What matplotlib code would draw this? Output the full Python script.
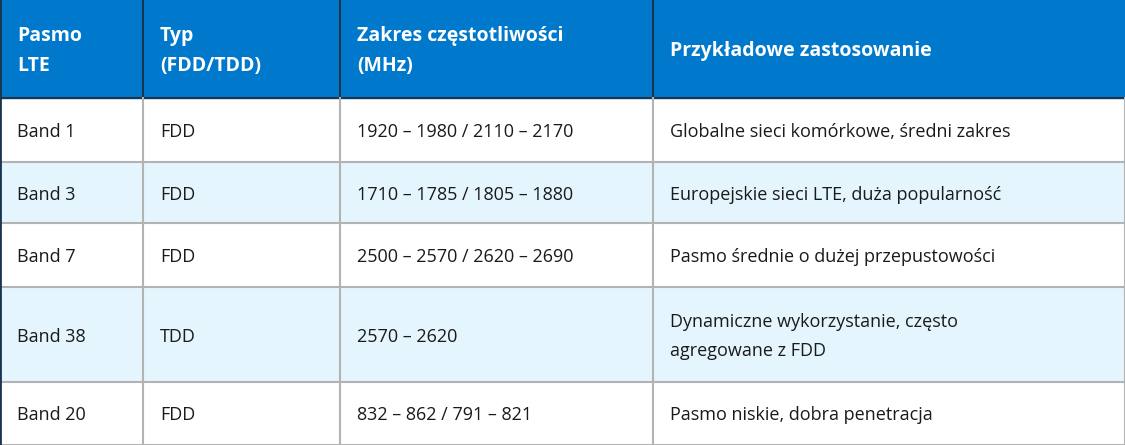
import matplotlib
matplotlib.use('Agg')
import matplotlib.pyplot as plt
import matplotlib.patches as mpatches

# table content
headers = ['Pasmo\nLTE', 'Typ\n(FDD/TDD)', 'Zakres częstotliwości\n(MHz)', 'Przykładowe zastosowanie']
bands = ['Band 1', 'Band 3', 'Band 7', 'Band 38', 'Band 20']
types = ['FDD', 'FDD', 'FDD', 'TDD', 'FDD']
ranges = ['1920 – 1980 / 2110 – 2170', '1710 – 1785 / 1805 – 1880',
          '2500 – 2570 / 2620 – 2690', '2570 – 2620', '832 – 862 / 791 – 821']
uses = ['Globalne sieci komórkowe, średni zakres', 'Europejskie sieci LTE, duża popularność',
        'Pasmo średnie o dużej przepustowości', 'Dynamiczne wykorzystanie, często\nagregowane z FDD',
        'Pasmo niskie, dobra penetracja']

# layout in pixels
col_x = [0, 143, 340, 653, 1125]
row_y = [0, 98, 162, 223, 287, 382, 445]
W, H = 1125, 445

fig = plt.figure(figsize=(W/100, H/100), dpi=100)
ax = fig.add_axes([0, 0, 1, 1])
ax.set_xlim(0, W)
ax.set_ylim(H, 0)
ax.axis('off')

font = ['Open Sans', 'DejaVu Sans']

# header
ax.add_patch(mpatches.Rectangle((0, 0), W, row_y[1], color='#0078cc', zorder=1))
for i, h in enumerate(headers):
    ax.text(col_x[i] + 17, row_y[1] / 2 + 2, h, color='white', fontsize=14, fontweight='bold',
            family=font, va='center', ha='left', linespacing=1.65)
    if i > 0:
        ax.plot([col_x[i], col_x[i]], [0, row_y[1]], color='#1b3550', lw=1.5, zorder=2)
ax.plot([0, W], [row_y[1], row_y[1]], color='#1b3550', lw=1.5, zorder=2)

# body
rows = list(zip(bands, types, ranges, uses))
for r, vals in enumerate(rows):
    y0, y1 = row_y[r + 1], row_y[r + 2]
    fc = '#e5f5fd' if r % 2 == 1 else 'white'
    ax.add_patch(mpatches.Rectangle((0, y0), W, y1 - y0, color=fc, zorder=0))
    for c, v in enumerate(vals):
        ax.text(col_x[c] + 17, (y0 + y1) / 2 + 2, v, color='#1a1a1a', fontsize=13,
                family=font, va='center', ha='left', linespacing=1.75)
    ax.plot([0, W], [y1, y1], color='#b3b3b3', lw=1.5, zorder=2)

for x in col_x:
    ax.plot([x, x], [row_y[1], H], color='#b3b3b3', lw=1.5, zorder=2)
ax.plot([0, 0], [0, H], color='#1b3550', lw=2, zorder=3)

fig.savefig('out.png', dpi=100)
